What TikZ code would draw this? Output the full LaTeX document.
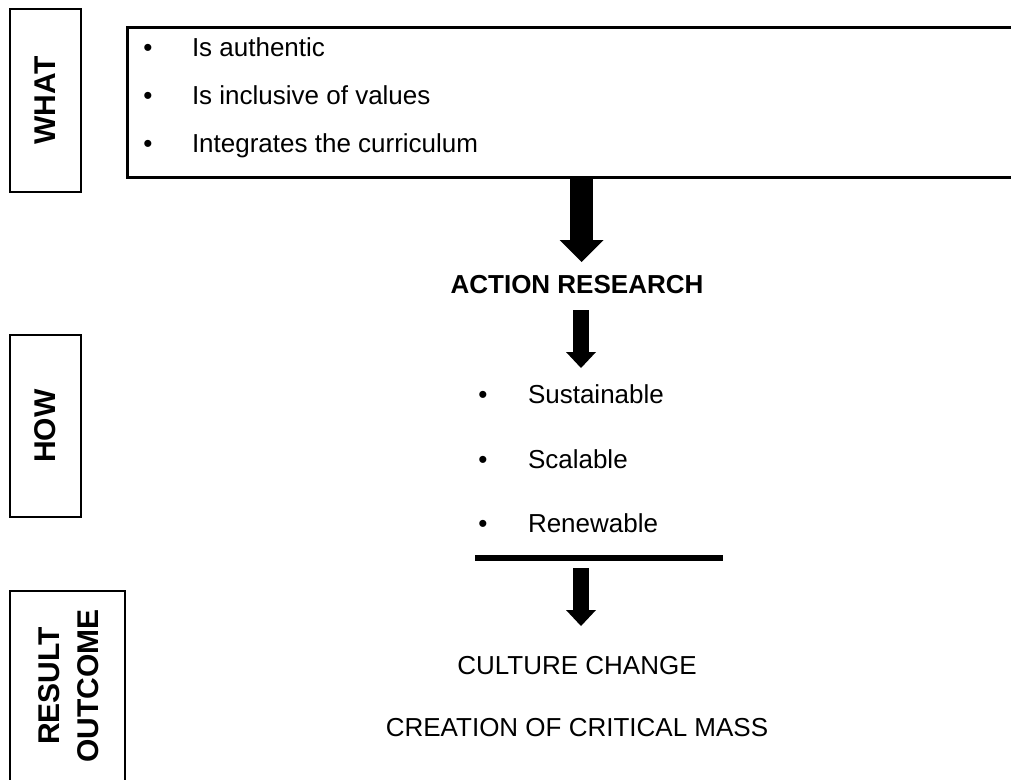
\documentclass[tikz,border=0pt]{standalone}
\usepackage{fontspec}
\setmainfont{Liberation Sans}
\usetikzlibrary{arrows.meta}
\begin{document}
\begin{tikzpicture}[x=1pt,y=-1pt,
  sidebox/.style={draw, line width=1.6pt, inner sep=0pt, outer sep=0pt, anchor=north west},
  sidelbl/.style={rotate=90, font=\fontsize{30}{39}\selectfont\bfseries, align=center, inner sep=0pt},
  body/.style={font=\fontsize{26}{31}\selectfont, inner sep=0pt, outer sep=0pt},
  bul/.style={body, anchor=base},
  item/.style={body, anchor=base west},
  ctext/.style={body, anchor=base},
  arrowbig/.style={line width=23pt, line cap=butt, -{Triangle[length=22pt,width=44pt,line width=0pt]}},
  arrowsmall/.style={line width=16pt, line cap=butt, -{Triangle[length=16pt,width=30pt,line width=0pt]}},
  rule/.style={line width=6pt, line cap=butt}
]
\useasboundingbox (0,0) rectangle (1011,779);
\clip (0,0) rectangle (1011,779);

% left side boxes
\node[sidebox, minimum width=71pt, minimum height=183pt] (whatbox) at (10,9) {};
\node[sidelbl] (whatlbl) at (whatbox.center) {WHAT};
\node[sidebox, minimum width=71pt, minimum height=182pt] (howbox) at (10,335) {};
\node[sidelbl] (howlbl) at (howbox.center) {HOW};
\node[sidebox, minimum width=115pt, minimum height=220pt] (resbox) at (10,591) {};
\node[sidelbl] (reslbl) at (69,686) {RESULT\\OUTCOME};

% top content box (open to the right)
\node[draw, line width=3pt, minimum width=950pt, minimum height=150pt, anchor=north west, inner sep=0pt, outer sep=0pt] (box) at (127,27) {};
\node[bul] (b1) at (148,56) {•};
\node[item] (t1) at (192,56) {Is authentic};
\node[bul] (b2) at (148,104) {•};
\node[item] (t2) at (192,104) {Is inclusive of values};
\node[bul] (b3) at (148,152) {•};
\node[item] (t3) at (192,152) {Integrates the curriculum};

% action research
\node[ctext, font=\fontsize{26}{31}\selectfont\bfseries] (ar) at (577,293) {ACTION RESEARCH};
\coordinate (a1s) at (581.5,177);
\coordinate (a1e) at (581.5,262);
\draw[arrowbig] (a1s) -- (a1e);

\coordinate (a2s) at (581,310);
\coordinate (a2e) at (581,368);
\draw[arrowsmall] (a2s) -- (a2e);

% how items
\node[bul] (h1b) at (483,403) {•};
\node[item] (h1) at (528,403) {Sustainable};
\node[bul] (h2b) at (483,468) {•};
\node[item] (h2) at (528,468) {Scalable};
\node[bul] (h3b) at (483,532) {•};
\node[item] (h3) at (528,532) {Renewable};

\coordinate (r1) at (475,558);
\coordinate (r2) at (723,558);
\draw[rule] (r1) -- (r2);

\coordinate (a3s) at (581,568);
\coordinate (a3e) at (581,626);
\draw[arrowsmall] (a3s) -- (a3e);

% outcomes
\node[ctext] (o1) at (577,674) {CULTURE CHANGE};
\node[ctext] (o2) at (577,736) {CREATION OF CRITICAL MASS};
\end{tikzpicture}
\end{document}
